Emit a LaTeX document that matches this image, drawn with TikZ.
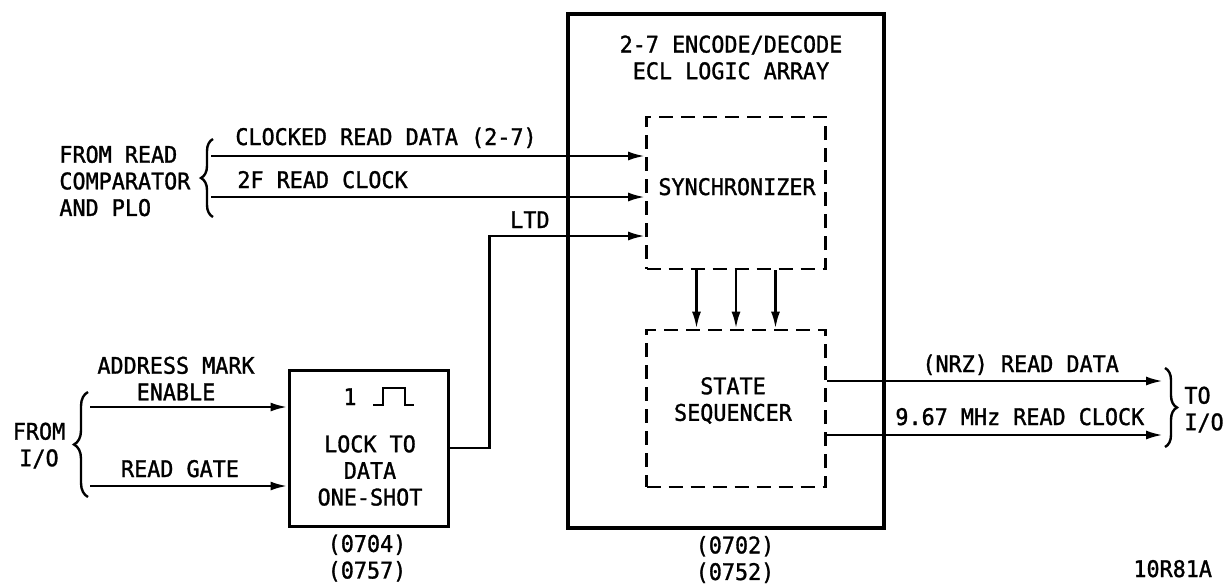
\documentclass[tikz,border=0pt]{standalone}
\usepackage{xcolor}
\usepackage{fontspec}
\setmonofont{DejaVu Sans Mono}[FakeBold=1.3, FakeStretch=0.95]
\usepackage{tikz}
\usetikzlibrary{arrows.meta, decorations.pathreplacing}

\begin{document}
\begin{tikzpicture}[x=0.5pt, y=-0.5pt,
			every node/.style={font=\ttfamily\fontsize{11.45}{13.3}\selectfont, inner sep=0pt},
			blk/.style={draw, line width=1.5pt},
			dblk/.style={draw, line width=1.4pt, dash pattern=on 7pt off 4pt},
			sig/.style={-{Latex[length=8.5pt, width=4.5pt]}, line width=1.3pt},
			brc/.style={decorate, decoration={brace, amplitude=#1}, line width=1.2pt},
			brc/.default=6pt]
			\useasboundingbox (0,0) rectangle (1225,585);
			
			\node[blk, line width=1.8pt, minimum width=158pt, minimum height=257pt] (arr) at (726,271) {};
			\node[dblk, minimum width=89.5pt, minimum height=76pt] (sync) at (736,193) {};
			\node[dblk, minimum width=89.5pt, minimum height=78.5pt] (seq) at (736,408.5) {};
			\node[blk, minimum width=79.5pt, minimum height=78pt] (ltdos) at (368.5,448) {};
			
			\node[align=center] (arrtitle) at (731,57.5) {2-7 ENCODE/DECODE\\ECL LOGIC ARRAY};
			\node[anchor=base] (synctxt) at (737,195) {SYNCHRONIZER};
			\node[align=center] (seqtxt) at (733,400.5) {STATE\\SEQUENCER};
			\node[anchor=base] (pulsenum) at (350,405) {1};
			\draw[line width=1.3pt] (373,405) -- (383,405) -- (383,388) -- (405,388) -- (405,405) -- (414,405);
			\node[align=center] (ostxt) at (370,470.5) {LOCK TO\\DATA\\ONE-SHOT};
			\node[align=center] (arrno) at (735,559.5) {(0702)\\(0752)};
			\node[align=center] (osno) at (367,558) {(0704)\\(0757)};
			
			\coordinate (crd) at (211,156);
			\coordinate (rclk) at (211,197);
			\coordinate (ame) at (90,407);
			\coordinate (rg) at (90,486);
			\coordinate (nrz) at (1163,381);
			\coordinate (vclk) at (1163,435);
			
			\draw[sig] (crd) -- (crd -| sync.west);
			\draw[sig] (rclk) -- (rclk -| sync.west);
			\draw[sig] (ltdos.east) -- ++(40,0) |- ([yshift=-21.5pt]sync.west);
			\draw[sig] (ame) -- (ame -| ltdos.west);
			\draw[sig] (rg) -- (rg -| ltdos.west);
			\foreach \dx in {-19.75,0,19.75}
				\draw[sig] ([xshift=\dx pt]sync.south) -- ([xshift=\dx pt]seq.north);
			\draw[sig] (nrz -| seq.east) -- (nrz);
			\draw[sig] (vclk -| seq.east) -- (vclk);
			
			\node[anchor=base west] (crdlbl) at (235,145) {CLOCKED READ DATA (2-7)};
			\node[anchor=base west] (rclklbl) at (237,188) {2F READ CLOCK};
			\node[anchor=base east] (ltdlbl) at (550,228) {LTD};
			\node[anchor=west, align=left] (plo) at (59,181) {FROM READ\\COMPARATOR\\AND PLO};
			\node[align=center] (amelbl) at (176,378.5) {ADDRESS MARK\\ENABLE};
			\node[anchor=base] (rglbl) at (180,477) {READ GATE};
			\node[align=center] (fromio) at (39,445.5) {FROM\\I/O};
			\node[anchor=base west] (nrzlbl) at (922,372) {(NRZ) READ DATA};
			\node[anchor=base west] (vclklbl) at (895,425) {9.67 MHz READ CLOCK};
			\node[anchor=west, align=left] (toio) at (1184,409.5) {TO\\I/O};
			\node[anchor=base west] (figno) at (1133,577) {10R81A};
			
			\draw[brc] (213,217) -- (213,139);
			\draw[brc=7pt] (88,497) -- (88,392);
			\draw[brc] (1165,368) -- (1165,447);
			\end{tikzpicture}
\end{document}
